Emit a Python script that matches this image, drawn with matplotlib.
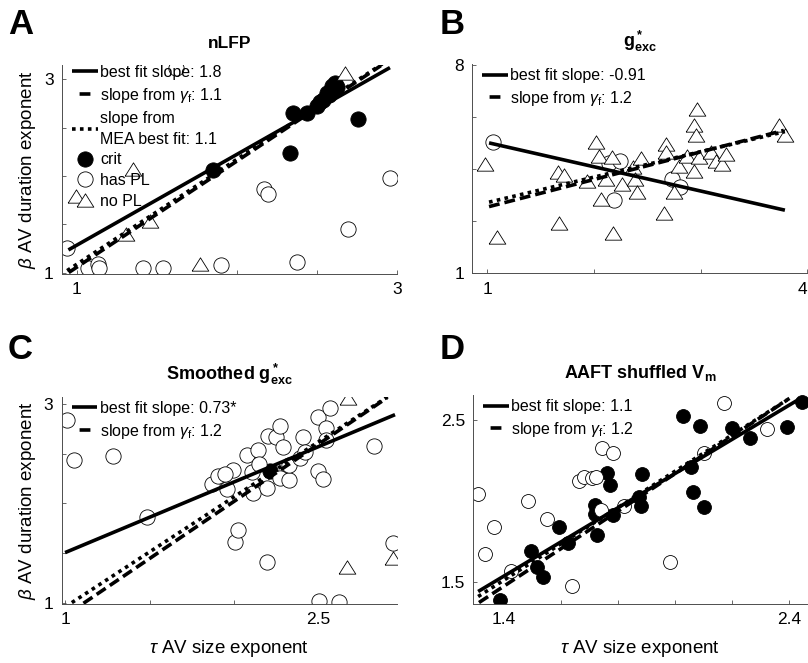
import matplotlib
matplotlib.use("Agg")
import matplotlib.pyplot as plt
from matplotlib.lines import Line2D

plt.rcParams['font.family'] = ['Liberation Sans', 'DejaVu Sans']
plt.rcParams['mathtext.fontset'] = 'custom'
plt.rcParams['mathtext.rm'] = 'Liberation Sans'
plt.rcParams['mathtext.it'] = 'Liberation Sans:italic'
plt.rcParams['mathtext.bf'] = 'Liberation Sans:bold'

# ---------------- data ----------------
# Panel A (nLFP)
A_crit_x = [1.854, 2.333, 2.354, 2.4375, 2.5, 2.52, 2.541, 2.5625, 2.58, 2.594, 2.614, 2.63, 2.76]
A_crit_y = [2.062, 2.241, 2.655, 2.655, 2.72, 2.76, 2.79, 2.861, 2.84, 2.93, 2.965, 2.92, 2.585]
A_pl_x = [0.9375, 1.073, 1.13, 1.142, 1.417, 1.542, 1.9, 1.621, 2.171, 2.198, 2.375, 2.698, 2.958]
A_pl_y = [1.259, 1.052, 1.09, 1.052, 1.052, 1.052, 1.076, 3.121, 1.869, 1.810, 1.110, 1.448, 1.983]
A_nopl_x = [1.35, 1.458, 1.308, 1.771, 2.677, 0.996]
A_nopl_y = [2.076, 1.534, 1.397, 1.086, 3.062, 1.79]
A_fit_x, A_fit_y = [0.948, 2.958], [1.234, 3.121]
A_gam_x, A_gam_y = [0.95, 2.90], [1.0, 3.14]
A_mea_x, A_mea_y = [0.94, 2.92], [1.02, 3.17]

# Panel B (g*exc)
B_pl_x = [1.056, 2.14, 2.244, 2.19, 2.734, 2.81]
B_pl_y = [5.403, 4.70, 4.78, 3.46, 4.16, 3.91]
B_nopl_x = [0.978, 1.0875, 1.672, 1.6625, 1.719, 1.931, 2.016, 2.047, 2.0625, 2.109, 2.181, 2.172,
            2.266, 2.369, 2.381, 2.406, 2.444, 2.656, 2.672, 2.672, 2.75, 2.797, 2.875, 2.9375,
            2.953, 2.9625, 2.9375, 2.984, 3.094, 3.14, 3.20, 3.234, 3.734, 3.79]
B_nopl_y = [4.67, 2.22, 2.69, 4.41, 4.30, 4.10, 5.40, 4.95, 3.51, 4.16, 2.35, 4.90,
            3.99, 4.56, 4.16, 3.73, 4.86, 3.03, 5.35, 5.06, 3.73, 4.61, 4.95, 5.97,
            5.63, 6.53, 4.44, 4.90, 5.06, 4.78, 4.67, 5.01, 5.97, 5.63]
B_fit_x, B_fit_y = [1.016, 3.79], [5.38, 3.12]
B_gam_x, B_gam_y = [1.016, 3.78], [3.24, 5.80]
B_mea_x, B_mea_y = [1.016, 3.79], [3.39, 5.76]

# Panel C (Smoothed g*exc)
C_crit_x = [2.214]
C_crit_y = [2.321]
C_pl_x = [1.01, 1.053, 1.286, 1.484, 1.868, 1.908, 1.957, 1.993, 2.007, 2.026, 2.076, 2.105, 2.111,
          2.145, 2.194, 2.194, 2.204, 2.249, 2.273, 2.293, 2.273, 2.328, 2.328, 2.391, 2.411, 2.421,
          2.5, 2.5, 2.506, 2.53, 2.545, 2.545, 2.569, 2.624, 2.829, 2.944, 1.95, 2.15]
C_pl_y = [2.833, 2.431, 2.472, 1.860, 2.197, 2.271, 2.147, 2.338, 1.619, 1.736, 2.488, 2.311, 2.104,
          2.538, 2.154, 1.418, 2.672, 2.666, 2.779, 2.565, 2.254, 2.231, 2.388, 2.455, 2.666, 2.512,
          2.866, 2.321, 1.027, 2.244, 2.756, 2.639, 2.957, 1.017, 2.572, 1.602, 2.30, 2.40]
C_nopl_x = [2.678, 2.668, 2.94]
C_nopl_y = [3.057, 1.368, 1.452]
C_fit_x, C_fit_y = [1.0, 2.954], [1.508, 2.890]
C_gam_x, C_gam_y = [1.109, 2.905], [1.0, 3.057]
C_mea_x, C_mea_y = [1.04, 2.92], [1.007, 3.08]

# Panel D (AAFT shuffled Vm)
D_crit_x = [1.386, 1.494, 1.517, 1.538, 1.593, 1.625, 1.718, 1.718, 1.728, 1.760, 1.772, 1.784,
            1.874, 1.882, 1.885, 2.029, 2.057, 2.064, 2.088, 2.102, 2.201, 2.265, 2.394, 2.447]
D_crit_y = [1.391, 1.695, 1.592, 1.535, 1.839, 1.740, 1.976, 1.919, 1.792, 2.171, 2.100, 1.915,
            2.028, 1.970, 2.167, 2.525, 2.208, 2.059, 2.463, 1.966, 2.449, 2.387, 2.455, 2.613]
D_pl_x = [1.309, 1.332, 1.365, 1.426, 1.484, 1.552, 1.64, 1.663, 1.681, 1.71, 1.722, 1.745, 1.784,
          1.739, 1.821, 1.982, 2.102, 2.172, 2.324]
D_pl_y = [2.044, 1.672, 1.839, 1.572, 2.003, 1.888, 1.479, 2.126, 2.151, 2.141, 2.151, 2.325, 2.299,
          1.946, 1.970, 1.623, 2.299, 2.607, 2.442]
D_fit_x, D_fit_y = [1.309, 2.441], [1.443, 2.633]
D_gam_x, D_gam_y = [1.312, 2.394], [1.375, 2.623]
D_mea_x, D_mea_y = [1.309, 2.412], [1.412, 2.644]

titles = ['nLFP', r'$\mathbf{g^*_{exc}}$', r'$\mathbf{Smoothed\ g^*_{exc}}$', r'$\mathbf{AAFT\ shuffled\ V_m}$']
letters = ['A', 'B', 'C', 'D']
fit_labels = ['best fit slope: 1.8', 'best fit slope: -0.91', 'best fit slope: 0.73*', 'best fit slope: 1.1']
gam_labels = [r'slope from $\gamma_{\rm f}$: 1.1', r'slope from $\gamma_{\rm f}$: 1.2',
              r'slope from $\gamma_{\rm f}$: 1.2', r'slope from $\gamma_{\rm f}$: 1.2']
mea_label = 'slope from\nMEA best fit: 1.1'
class_labels = ['crit', 'has PL', 'no PL']

A_xticks, A_xlabels = [1, 1.5, 2, 2.5, 3], ['1', '', '', '', '3']
A_yticks, A_ylabels = [1, 1.5, 2, 2.5, 3], ['1', '', '', '', '3']
B_xticks, B_xlabels = [1, 2, 3, 4], ['1', '', '', '4']
B_yticks, B_ylabels = [1, 2.75, 4.5, 6.25, 8], ['1', '', '', '', '8']
C_xticks, C_xlabels = [1, 1.5, 2, 2.5], ['1', '', '', '2.5']
C_yticks, C_ylabels = [1, 1.5, 2, 2.5, 3], ['1', '', '', '', '3']
D_xticks, D_xlabels = [1.4, 1.6, 1.8, 2.0, 2.2, 2.4], ['1.4', '', '', '', '', '2.4']
D_yticks, D_ylabels = [1.5, 2.5], ['1.5', '2.5']

# ---------------- layout ----------------
W, H = 808, 663
fig = plt.figure(figsize=(W / 100, H / 100), dpi=100)

def box(l, r, t, b):
    return [l / W, 1 - b / H, (r - l) / W, (b - t) / H]

axA = fig.add_axes(box(62, 397, 65, 273.5))
axB = fig.add_axes(box(472.3, 807.3, 64, 273.3))
axC = fig.add_axes(box(61.7, 396.7, 396.7, 604))
axD = fig.add_axes(box(473.3, 807, 395, 604))
axes = [axA, axB, axC, axD]

lims = [((0.908, 3.002), (0.99, 3.148)),
        ((0.859, 4.0), (1.0, 8.03)),
        ((0.98, 2.964), (0.993, 3.07)),
        ((1.292, 2.464), (1.366, 2.654))]
ticks = [(A_xticks, A_xlabels, A_yticks, A_ylabels),
         (B_xticks, B_xlabels, B_yticks, B_ylabels),
         (C_xticks, C_xlabels, C_yticks, C_ylabels),
         (D_xticks, D_xlabels, D_yticks, D_ylabels)]

LW = 2.6
MS = 11
tri = [(-1, -0.8), (1, -0.8), (0, 0.8), (-1, -0.8)]
spine_col = '#4d4d4d'

def mk_crit(ax, x, y, ms=MS):
    return ax.plot(x, y, 'o', ms=ms, mfc='black', mec='black', mew=0.6, ls='none', zorder=2)[0]

def mk_pl(ax, x, y, ms=MS):
    return ax.plot(x, y, 'o', ms=ms, mfc='white', mec='black', mew=0.6, ls='none', zorder=2)[0]

def mk_nopl(ax, x, y, ms=MS + 1):
    return ax.plot(x, y, marker=tri, ms=ms, mfc='white', mec='black', mew=0.6, ls='none', zorder=2)[0]

panel_data = [
    dict(crit=(A_crit_x, A_crit_y), pl=(A_pl_x, A_pl_y), nopl=(A_nopl_x, A_nopl_y),
         fit=(A_fit_x, A_fit_y), gam=(A_gam_x, A_gam_y), mea=(A_mea_x, A_mea_y)),
    dict(crit=None, pl=(B_pl_x, B_pl_y), nopl=(B_nopl_x, B_nopl_y),
         fit=(B_fit_x, B_fit_y), gam=(B_gam_x, B_gam_y), mea=(B_mea_x, B_mea_y)),
    dict(crit=(C_crit_x, C_crit_y), pl=(C_pl_x, C_pl_y), nopl=(C_nopl_x, C_nopl_y),
         fit=(C_fit_x, C_fit_y), gam=(C_gam_x, C_gam_y), mea=(C_mea_x, C_mea_y)),
    dict(crit=(D_crit_x, D_crit_y), pl=(D_pl_x, D_pl_y), nopl=None,
         fit=(D_fit_x, D_fit_y), gam=(D_gam_x, D_gam_y), mea=(D_mea_x, D_mea_y)),
]

dash_style = (0, (3.0, 1.4))
dot_style = (0, (1.0, 1.2))

for i, ax in enumerate(axes):
    d = panel_data[i]
    ms = 10 if i == 3 else MS
    h_crit = mk_crit(ax, *d['crit'], ms=ms) if d['crit'] else None
    h_pl = mk_pl(ax, *d['pl'], ms=ms) if d['pl'] else None
    h_nopl = mk_nopl(ax, *d['nopl']) if d['nopl'] else None
    h_fit, = ax.plot(*d['fit'], color='black', lw=LW, solid_capstyle='butt', zorder=3)
    h_gam, = ax.plot(*d['gam'], color='black', lw=LW, ls=dash_style, dash_capstyle='butt', zorder=3)
    h_mea, = ax.plot(*d['mea'], color='black', lw=LW, ls=dot_style, dash_capstyle='butt', zorder=3)

    (xl, yl) = lims[i]
    ax.set_xlim(*xl)
    ax.set_ylim(*yl)
    xt, xtl, yt, ytl = ticks[i]
    ax.set_xticks(xt)
    ax.set_xticklabels(xtl)
    ax.set_yticks(yt)
    ax.set_yticklabels(ytl)
    ax.tick_params(direction='in', length=3, width=0.6, colors=spine_col, labelsize=12.5,
                   labelcolor='black', pad=6)
    for s in ['top', 'right']:
        ax.spines[s].set_visible(False)
    for s in ['left', 'bottom']:
        ax.spines[s].set_linewidth(0.7)
        ax.spines[s].set_color(spine_col)
    ax.set_facecolor('none')

    ax.set_title(titles[i], fontsize=12.5 if i == 0 else 13, fontweight='bold', pad=12)

    # legend proxy for dashed entry: single centred dash
    gam_proxy = Line2D([], [], color='black', lw=LW, ls=(5.1, (3.0, 4.2)), dash_capstyle='butt')
    handles = [h_fit, gam_proxy]
    labels = [fit_labels[i], gam_labels[i]]
    if i == 0:
        handles += [h_mea, h_crit, h_pl, h_nopl]
        labels += [mea_label] + class_labels
    leg = ax.legend(handles, labels, loc='upper left', frameon=False, fontsize=11.5,
                    handlelength=1.6, handletextpad=0.15, labelspacing=0.36,
                    borderaxespad=0.0, borderpad=0.0,
                    bbox_to_anchor=(0.03, 1.0 if i == 0 else 0.98))
    if i == 0:
        leg.get_texts()[2].set_linespacing(1.5)
    leg.set_zorder(5)

# the right-most tick label of panel B sits at the figure edge
axB.get_xticklabels()[-1].set_horizontalalignment('right')

fig.text(8 / W, 1 - 8 / H, 'A', fontsize=25, fontweight='bold', va='top', ha='left')
fig.text(440 / W, 1 - 8 / H, 'B', fontsize=25, fontweight='bold', va='top', ha='left')
fig.text(8 / W, 1 - 333 / H, 'C', fontsize=25, fontweight='bold', va='top', ha='left')
fig.text(440 / W, 1 - 333 / H, 'D', fontsize=25, fontweight='bold', va='top', ha='left')

ylab = r'$\beta$ AV duration exponent'
xlab = r'$\tau$ AV size exponent'
for ax in (axA, axC):
    ax.set_ylabel(ylab, fontsize=13.5)
for ax in (axC, axD):
    ax.set_xlabel(xlab, fontsize=13.5, labelpad=8)

fig.savefig('out.png', dpi=100)
